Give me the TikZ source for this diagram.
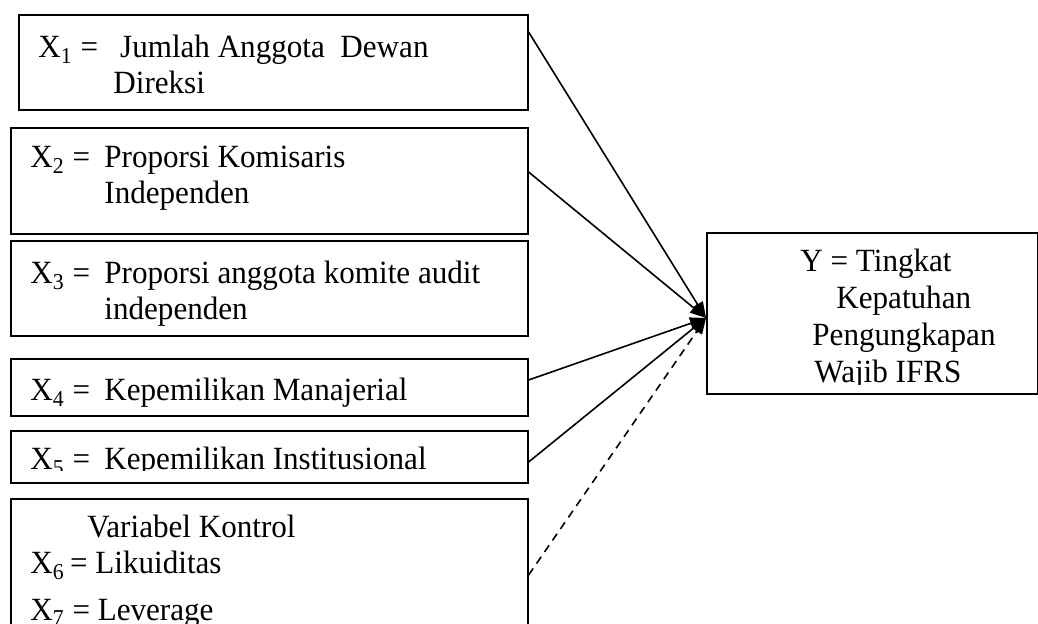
\documentclass[tikz,border=0pt]{standalone}
\usepackage{fontspec}
\setmainfont{Liberation Serif}[FakeStretch=0.96]
\usetikzlibrary{arrows.meta}
\begin{document}
\begin{tikzpicture}
    [x=0.5pt, y=-0.5pt,
    box/.style={draw, line width=0.8pt, inner sep=0pt, anchor=north west},
    txt/.style={anchor=base west, inner sep=0pt, font=\fontsize{16.2}{18}\selectfont},
    link/.style={line width=0.8pt, -{Triangle[length=8pt, width=6pt]}},
    ctrl/.style={link, dash pattern=on 4pt off 3pt}]
    \useasboundingbox (0,0) rectangle (1038,624);
    \node[box, minimum width=254.5pt, minimum height=47.5pt] (b1) at (18,14) {};
    \node[box, minimum width=258.5pt, minimum height=53pt] (b2) at (10,127) {};
    \node[box, minimum width=258.5pt, minimum height=47.5pt] (b3) at (10,240) {};
    \node[box, minimum width=258.5pt, minimum height=28.5pt] (b4) at (10,358) {};
    \node[box, minimum width=258.5pt, minimum height=26pt] (b5) at (10,430) {};
    \node[box, minimum width=258.5pt, minimum height=71pt] (b6) at (10,498) {};
    \node[box, minimum width=165.5pt, minimum height=80.5pt] (y) at (706,232) {};
    \node[txt] (t1a) at (38,58) {\makebox[37pt][l]{X\textsubscript{1} =}\ Jumlah Anggota\ \ Dewan};
    \node[txt] (t1b) at (113,94) {Direksi};
    \node[txt] (t2a) at (30,168) {\makebox[37pt][l]{X\textsubscript{2} =}Proporsi Komisaris};
    \node[txt] (t2b) at (104,204) {Independen};
    \node[txt] (t3a) at (30,284) {\makebox[37pt][l]{X\textsubscript{3} =}Proporsi anggota komite audit};
    \node[txt] (t3b) at (104,320) {independen};
    \node[txt] (t4) at (30,401) {\makebox[37pt][l]{X\textsubscript{4} =}Kepemilikan Manajerial};
    \begin{scope}
      \clip (0,0) rectangle (1038,471);
      \node[txt] (t5) at (30,470) {\makebox[37pt][l]{X\textsubscript{5} =}Kepemilikan Institusional};
    \end{scope}
    \node[txt] (t6a) at (87,538) {Variabel Kontrol};
    \node[txt] (t6b) at (30,574) {X\textsubscript{6}\,= Likuiditas};
    \node[txt] (t6c) at (30,620) {X\textsubscript{7} = Leverage};
    \node[txt] (ya) at (800,272) {Y = Tingkat};
    \node[txt] (yb) at (836,309) {Kepatuhan};
    \node[txt] (yc) at (812,346) {Pengungkapan};
    \begin{scope}
      \clip (0,0) rectangle (1038,385);
      \node[txt] (yd) at (814,383) {Wajib IFRS};
    \end{scope}
    \coordinate (tip) at ([yshift=-43pt]y.north west);
    \draw[link] ([yshift=-9pt]b1.north east) -- (tip);
    \draw[link] ([yshift=-22.5pt]b2.north east) -- (tip);
    \draw[link] ([yshift=-11pt]b4.north east) -- (tip);
    \draw[link] ([yshift=-16pt]b5.north east) -- (tip);
    \draw[ctrl] ([yshift=-38.5pt]b6.north east) -- (tip);
  \end{tikzpicture}
\end{document}
